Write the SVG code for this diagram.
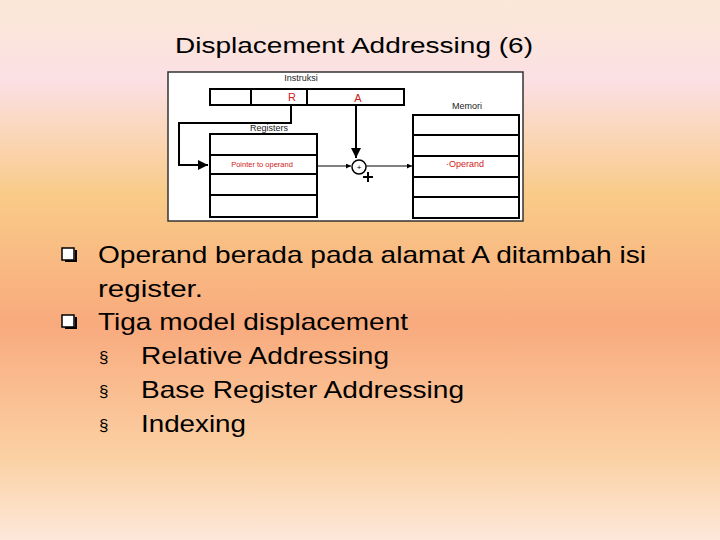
<svg xmlns="http://www.w3.org/2000/svg" width="720" height="540" viewBox="0 0 720 540">
<defs>
<linearGradient id="bg" x1="0" y1="0" x2="0" y2="1">
<stop offset="0" stop-color="#fbe8d6"/><stop offset="0.15" stop-color="#fbe0e4"/><stop offset="0.36" stop-color="#f9cb88"/><stop offset="0.6" stop-color="#f8aa7d"/><stop offset="0.85" stop-color="#fbd1a4"/><stop offset="1" stop-color="#fde8da"/>
</linearGradient>
<marker id="ah" viewBox="0 0 10 10" refX="10" refY="5" markerWidth="5" markerHeight="5" orient="auto"><path d="M0,0L10,5L0,10z" fill="#000"/></marker>
<style>
.t{font-family:"Liberation Sans",Arial,sans-serif;fill:#000}
.b{fill:none;stroke:#000;stroke-width:2}
.s{font-family:"Liberation Sans",Arial,sans-serif;font-size:9px;fill:#222}
.r{font-family:"Liberation Sans",Arial,sans-serif;fill:#d02020}
.c{fill:none;stroke:#000;stroke-width:2}
</style>
</defs>
<rect width="720" height="540" fill="url(#bg)"/>
<text class="t" x="175" y="53" font-size="22" textLength="358" lengthAdjust="spacingAndGlyphs">Displacement Addressing (6)</text>
<g id="figure">
<rect x="168" y="72" width="355" height="149" fill="#fff" stroke="#333" stroke-width="1.5"/>
<text class="s" x="301" y="81" text-anchor="middle">Instruksi</text>
<text class="s" x="269" y="131" text-anchor="middle">Registers</text>
<text class="s" x="467" y="109" text-anchor="middle">Memori</text>
</g>
<g id="instruksi">
<rect class="b" x="210" y="89" width="194" height="16"/>
<line class="b" x1="251" y1="89" x2="251" y2="105"/>
<line class="b" x1="307" y1="89" x2="307" y2="105"/>
<text class="r" x="292" y="101" font-size="11" text-anchor="middle">R</text>
<text class="r" x="358" y="102" font-size="11" text-anchor="middle">A</text>
</g>
<g id="registers">
<rect class="b" x="210" y="134" width="107" height="83"/>
<line class="b" x1="210" y1="155" x2="317" y2="155"/>
<line class="b" x1="210" y1="174" x2="317" y2="174"/>
<line class="b" x1="210" y1="195" x2="317" y2="195"/>
<text class="r" x="262" y="167" font-size="7.5" text-anchor="middle">Pointer to operand</text>
</g>
<g id="memori">
<rect class="b" x="413" y="115" width="106" height="103"/>
<line class="b" x1="413" y1="135" x2="519" y2="135"/>
<line class="b" x1="413" y1="156" x2="519" y2="156"/>
<line class="b" x1="413" y1="177" x2="519" y2="177"/>
<line class="b" x1="413" y1="197" x2="519" y2="197"/>
<text class="r" x="465" y="167" font-size="9" text-anchor="middle">·Operand</text>
</g>
<g id="adder">
<circle cx="359" cy="167" r="7" fill="#fff" stroke="#000" stroke-width="1.5"/>
<text class="t" x="359" y="170" font-size="8" text-anchor="middle">+</text>
<path d="M363,177h10M368,172v10" stroke="#000" stroke-width="2"/>
</g>
<g id="connectors">
<polyline class="c" points="291,105 291,123 179,123 179,165 208,165" marker-end="url(#ah)"/>
<line class="c" x1="356" y1="105" x2="356" y2="158" marker-end="url(#ah)"/>
<line x1="317" y1="166" x2="351" y2="166" stroke="#000" stroke-width="1" marker-end="url(#ah)"/>
<line x1="366" y1="166" x2="412" y2="166" stroke="#000" stroke-width="1" marker-end="url(#ah)"/>
</g>
<g id="bullets">
<rect x="62" y="248" width="12" height="12" fill="#fff" stroke="#000" stroke-width="1.5"/>
<path d="M65,261h11v-11" fill="none" stroke="#000" stroke-width="2"/>
<rect x="62" y="315" width="12" height="12" fill="#fff" stroke="#000" stroke-width="1.5"/>
<path d="M65,328h11v-11" fill="none" stroke="#000" stroke-width="2"/>
<text class="t" x="98" y="263" font-size="24" textLength="548" lengthAdjust="spacingAndGlyphs">Operand berada pada alamat A ditambah isi</text>
<text class="t" x="98" y="297" font-size="24" textLength="105" lengthAdjust="spacingAndGlyphs">register.</text>
<text class="t" x="98" y="330" font-size="24" textLength="310" lengthAdjust="spacingAndGlyphs">Tiga model displacement</text>
<text class="t" x="99" y="363" font-size="17">§</text>
<text class="t" x="141" y="364" font-size="24" textLength="248" lengthAdjust="spacingAndGlyphs">Relative Addressing</text>
<text class="t" x="99" y="397" font-size="17">§</text>
<text class="t" x="141" y="398" font-size="24" textLength="323" lengthAdjust="spacingAndGlyphs">Base Register Addressing</text>
<text class="t" x="99" y="431" font-size="17">§</text>
<text class="t" x="141" y="432" font-size="24" textLength="105" lengthAdjust="spacingAndGlyphs">Indexing</text>
</g>
</svg>
